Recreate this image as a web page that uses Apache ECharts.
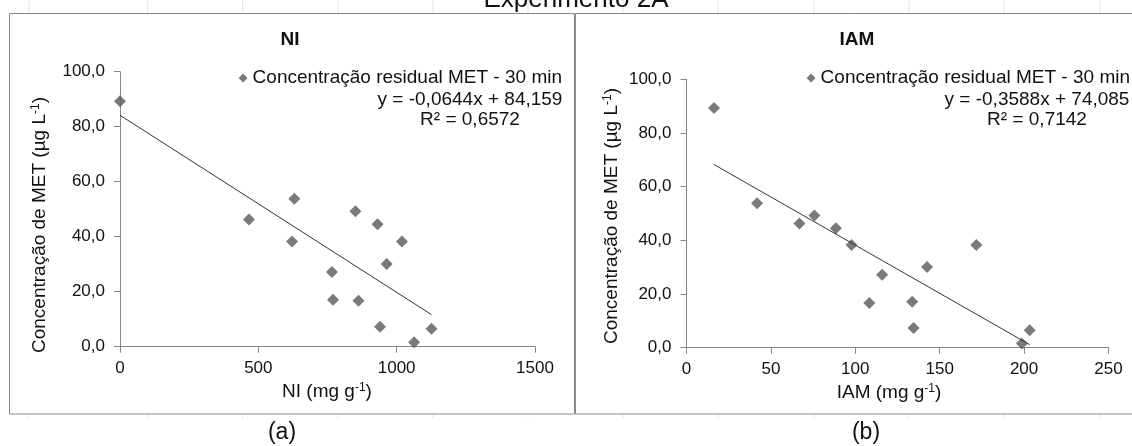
<!DOCTYPE html>
<html><head><meta charset="utf-8">
<script src="https://cdn.jsdelivr.net/npm/echarts@6/dist/echarts.min.js"></script>
<style>html,body{margin:0;padding:0;background:#fff}#c{width:1132px;height:446px}</style>
</head><body><div id="c"></div>
<script>
// ---- data ----
const seriesName = 'Concentração residual MET - 30 min';
const niX  = [0, 466, 630, 622, 851, 931, 1019, 964, 766, 770, 862, 940, 1126, 1063];
const niY  = [89.3, 46.3, 53.8, 38.3, 49.3, 44.5, 38.3, 30.1, 27.2, 17.1, 16.7, 7.3, 6.5, 1.6];
const iamX = [16.3, 66.9, 41.8, 97.8, 75.8, 88.5, 171.7, 142.5, 115.9, 133.7, 108.3, 134.5, 203.3, 198.7];
const iamY = [89.3, 46.3, 53.8, 38.3, 49.3, 44.5, 38.3, 30.1, 27.2, 17.1, 16.7, 7.3, 6.5, 1.6];
const trendNI  = [[0, 84.16], [1126, 11.65]];
const trendIAM = [[16.3, 68.24], [203.3, 1.14]];
const eqNI  = 'y = -0,0644x + 84,159';
const r2NI  = 'R² = 0,6572';
const eqIAM = 'y = -0,3588x + 74,085';
const r2IAM = 'R² = 0,7142';
const yTicks = [0, 20, 40, 60, 80, 100];
const niTicks = [0, 500, 1000, 1500];
const iamTicks = [0, 50, 100, 150, 200, 250];

const FONT = '"Liberation Sans", Arial, sans-serif';
const TXT = '#111';
const AX = '#868686';
const MK = '#595959';
const FS = 19;

const pair = (xs, ys) => xs.map((x, i) => [x, ys[i]]);
const fmtY = v => v.toFixed(1).replace('.', ',');

function yAx(idx) {
  return {
    type: 'value', gridIndex: idx, min: yTicks[0], max: yTicks[yTicks.length - 1], interval: 20,
    splitLine: { show: false },
    axisLine: { show: true, lineStyle: { color: AX, width: 1 } },
    axisTick: { show: true, length: 6, lineStyle: { color: AX } },
    axisLabel: { formatter: fmtY, fontSize: 17, color: TXT, fontFamily: FONT, margin: 15 }
  };
}
function xAx(idx, ticks) {
  return {
    type: 'value', gridIndex: idx, min: ticks[0], max: ticks[ticks.length - 1], interval: ticks[1] - ticks[0],
    splitLine: { show: false },
    axisLine: { show: true, onZero: false, lineStyle: { color: AX, width: 1 } },
    axisTick: { show: true, length: 6, lineStyle: { color: AX } },
    axisLabel: { formatter: v => String(v), fontSize: 17, color: TXT, fontFamily: FONT, margin: 13 }
  };
}
function txt(x, y, text, opt) {
  return Object.assign({ type: 'text', x: x, y: y, silent: true,
    style: Object.assign({ text: text, fill: TXT, font: FS + 'px ' + FONT, align: 'center', verticalAlign: 'middle' }, opt || {}) });
}
function supText(x, y, main, sup, rot) {
  return { type: 'text', x: x, y: y, rotation: rot || 0, silent: true,
    style: { text: '{a|' + main + '}{s|' + sup + '}{a|)}', align: 'center', verticalAlign: 'middle', fill: TXT,
      rich: { a: { fontSize: FS, fontFamily: FONT, lineHeight: 21, fill: TXT },
              s: { fontSize: 12, fontFamily: FONT, lineHeight: 13, verticalAlign: 'top', fill: TXT } } } };
}
function legend(right) {
  return { show: true, data: [{ name: seriesName, icon: 'diamond' }], right: right, top: 67.5, padding: 0,
    itemWidth: 9, itemHeight: 9, selectedMode: false,
    textStyle: { fontSize: FS, color: TXT, fontFamily: FONT, lineHeight: 21 } };
}

const stubs = [];
[29, 147.7, 242.7, 338, 433, 528, 623, 718, 814, 909, 1004, 1100].forEach(x => {
  stubs.push({ type: 'line', silent: true, shape: { x1: x, y1: 0, x2: x, y2: 13 }, style: { stroke: '#e2e2e2', lineWidth: 1 } });
  stubs.push({ type: 'line', silent: true, shape: { x1: x, y1: 414, x2: x, y2: 418 }, style: { stroke: '#e2e2e2', lineWidth: 1 } });
});

const option = {
  animation: false,
  backgroundColor: '#fff',
  grid: [
    { left: 120, top: 71.7, width: 415, height: 275 },
    { left: 686.5, top: 79.3, width: 422, height: 268.4 }
  ],
  xAxis: [xAx(0, niTicks), xAx(1, iamTicks)],
  yAxis: [yAx(0), yAx(1)],
  legend: [legend(570), legend(2)],
  series: [
    { name: seriesName, type: 'scatter', xAxisIndex: 0, yAxisIndex: 0, data: pair(niX, niY),
      symbol: 'diamond', symbolSize: 12, itemStyle: { color: MK } },
    { name: 'trendNI', type: 'line', xAxisIndex: 0, yAxisIndex: 0, data: trendNI, showSymbol: false,
      lineStyle: { color: '#333', width: 1 } },
    { name: seriesName, type: 'scatter', xAxisIndex: 1, yAxisIndex: 1, data: pair(iamX, iamY),
      symbol: 'diamond', symbolSize: 12, itemStyle: { color: MK } },
    { name: 'trendIAM', type: 'line', xAxisIndex: 1, yAxisIndex: 1, data: trendIAM, showSymbol: false,
      lineStyle: { color: '#333', width: 1 } }
  ],
  graphic: stubs.concat([
    { type: 'rect', silent: true, shape: { x: 9.5, y: 13.5, width: 565, height: 400.5 }, style: { fill: 'none', stroke: '#8a8a8a', lineWidth: 1 } },
    { type: 'rect', silent: true, shape: { x: 575.5, y: 13.5, width: 600, height: 400.5 }, style: { fill: 'none', stroke: '#8a8a8a', lineWidth: 1 } },
    txt(576, -0.5, 'Experimento 2A', { font: '26px ' + FONT }),
    txt(290, 40, 'NI', { font: 'bold 19px ' + FONT }),
    txt(857, 40, 'IAM', { font: 'bold 19px ' + FONT }),
    txt(470, 99.5, eqNI),
    txt(470, 120, r2NI),
    txt(1037, 99.5, eqIAM),
    txt(1037, 120, r2IAM),
    supText(40, 225, 'Concentração de MET (µg L', '-1', Math.PI / 2),
    supText(612, 216, 'Concentração de MET (µg L', '-1', Math.PI / 2),
    supText(327, 392, 'NI (mg g', '-1'),
    supText(889, 393, 'IAM (mg g', '-1'),
    txt(282, 433, '(a)', { font: '23px ' + FONT }),
    txt(866, 433, '(b)', { font: '23px ' + FONT })
  ])
};
const chart = echarts.init(document.getElementById('c'), null, { renderer: 'canvas' });
chart.setOption(option);
</script>
</body></html>
